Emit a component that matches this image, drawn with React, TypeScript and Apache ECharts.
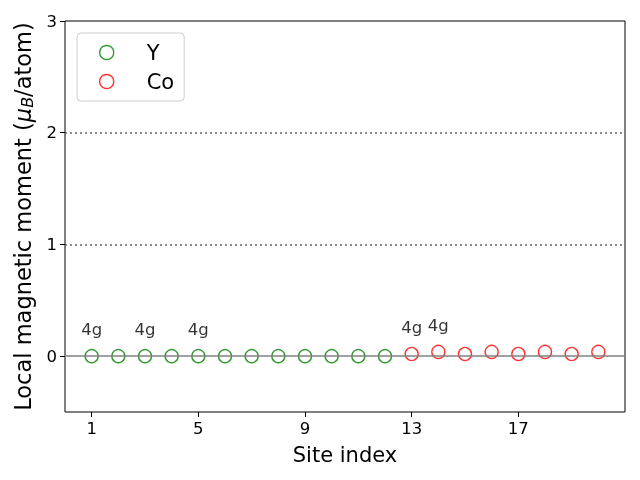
import React, { useEffect, useRef } from "react";
import * as echarts from "echarts";

const ySites = [1, 2, 3, 4, 5, 6, 7, 8, 9, 10, 11, 12];
const yMoments = [0, 0, 0, 0, 0, 0, 0, 0, 0, 0, 0, 0];
const coSites = [13, 14, 15, 16, 17, 18, 19, 20];
const coMoments = [0.02, 0.038, 0.02, 0.038, 0.02, 0.038, 0.02, 0.038];
const labelSites = [1, 3, 5, 13, 14];
const labelText = "4g";
const xTicks = [1, 5, 9, 13, 17];
const yTicks = [0, 1, 2, 3];
const refLines = [1, 2];

const FONT = "DejaVu Sans";

export default function App() {
  const ref = useRef<HTMLDivElement>(null);
  useEffect(() => {
    if (!ref.current) return;
    const chart = echarts.init(ref.current, undefined, { renderer: "svg" });
    const allSites = [...ySites, ...coSites];
    const allVals = [...yMoments, ...coMoments];
    const labelData = labelSites.map((s) => {
      const v = allVals[allSites.indexOf(s)];
      return [s, v + 0.24];
    });
    chart.setOption({
      animation: false,
      textStyle: { fontFamily: FONT },
      grid: {
        left: 65,
        right: 15,
        top: 21,
        bottom: 68,
        containLabel: false,
        outerBoundsMode: "none",
        show: true,
        borderColor: "#000",
        borderWidth: 1,
        backgroundColor: "transparent",
      },
      legend: {
        left: 77,
        top: 33,
        orient: "vertical",
        itemWidth: 16,
        itemHeight: 14,
        itemGap: 8,
        padding: [9, 10, 9, 22],
        backgroundColor: "#fff",
        borderColor: "#ccc",
        borderWidth: 1,
        borderRadius: 4,
        textStyle: { fontSize: 21, fontFamily: FONT, color: "#000", padding: [0, 0, 0, 27] },
        data: [
          { name: "Y", icon: "circle", itemStyle: { color: "transparent", borderColor: "green", borderWidth: 1.4 } },
          { name: "Co", icon: "circle", itemStyle: { color: "transparent", borderColor: "red", borderWidth: 1.4 } },
        ],
      },
      xAxis: {
        type: "value",
        min: 0,
        max: 21,
        name: "Site index",
        nameLocation: "middle",
        nameGap: 32,
        nameTextStyle: { fontSize: 21, color: "#000", fontFamily: FONT },
        axisLine: { show: false, onZero: false },
        splitLine: { show: false },
        axisTick: { show: true, inside: false, length: 5, customValues: xTicks, lineStyle: { color: "#000" } },
        axisLabel: { customValues: xTicks, fontSize: 16.5, color: "#000", margin: 8, fontFamily: FONT },
      },
      yAxis: {
        type: "value",
        min: -0.5,
        max: 3,
        name: "Local magnetic moment ({i|μ}{sub|B}/atom)",
        nameLocation: "middle",
        nameGap: 29,
        nameTextStyle: {
          fontSize: 22.5,
          color: "#000",
          fontFamily: FONT,
          rich: {
            i: { fontSize: 22.5, fontStyle: "italic", color: "#000", fontFamily: FONT },
            sub: { fontSize: 16, fontStyle: "italic", color: "#000", fontFamily: FONT, verticalAlign: "bottom", padding: [9, 0, 0, 0] },
          },
        },
        axisLine: { show: false, onZero: false },
        splitLine: { show: false },
        axisTick: { show: true, inside: false, length: 5, customValues: yTicks, lineStyle: { color: "#000" } },
        axisLabel: { customValues: yTicks, fontSize: 16.5, color: "#000", margin: 8, fontFamily: FONT },
      },
      series: [
        {
          name: "Y",
          type: "scatter",
          symbol: "circle",
          symbolSize: 13,
          itemStyle: { color: "transparent", borderColor: "green", borderWidth: 1.4 },
          data: ySites.map((s, i) => [s, yMoments[i]]),
          z: 3,
          markLine: {
            silent: true,
            symbol: "none",
            label: { show: false },
            data: [
              { yAxis: 0, lineStyle: { color: "#808080", type: "solid", width: 1.5 } },
              ...refLines.map((v) => ({ yAxis: v, lineStyle: { color: "#666", type: [2, 3], width: 1.5 } })),
            ],
          },
        },
        {
          name: "Co",
          type: "scatter",
          symbol: "circle",
          symbolSize: 13,
          itemStyle: { color: "transparent", borderColor: "red", borderWidth: 1.4 },
          data: coSites.map((s, i) => [s, coMoments[i]]),
          z: 3,
        },
        {
          name: "labels",
          type: "scatter",
          symbolSize: 0,
          silent: true,
          data: labelData,
          label: {
            show: true,
            position: "inside",
            formatter: labelText,
            fontSize: 16.5,
            color: "#000",
            textBorderWidth: 0,
            fontFamily: FONT,
          },
        },
      ],
    });
    return () => chart.dispose();
  }, []);
  return <div ref={ref} style={{ position: "fixed", left: 0, top: 0, width: 640, height: 480 }} />;
}
